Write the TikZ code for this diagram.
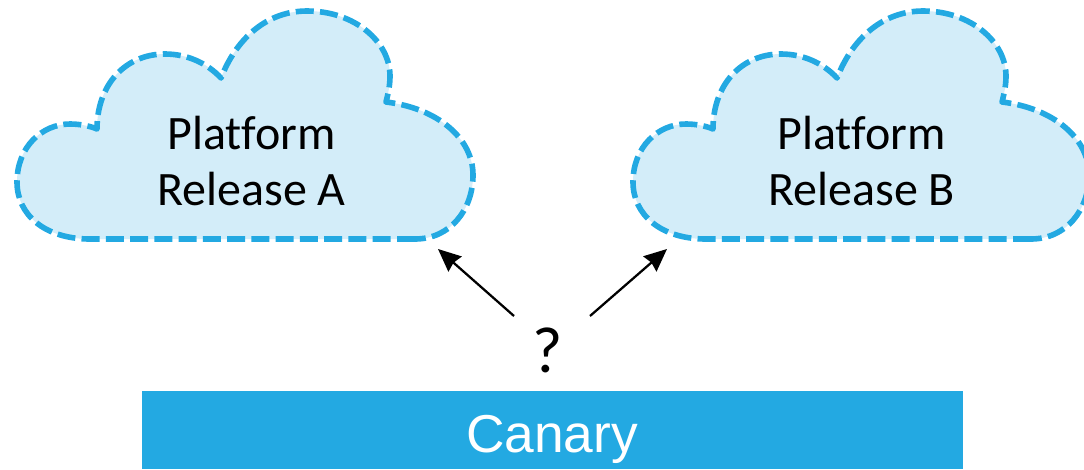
\documentclass[tikz,border=0pt]{standalone}
\usepackage{fontspec}
\setmainfont[Ligatures=NoCommon]{Carlito}
\newfontfamily\canaryfont{Liberation Sans}
\definecolor{cloudline}{HTML}{23A9E2}
\definecolor{cloudfill}{HTML}{D3EDF9}
\tikzset{
  cloudshape/.style={draw=cloudline,fill=cloudfill,line width=4.2pt,dash pattern=on 13.5pt off 4.7pt,line join=round},
  cloudlabel/.style={align=center,font=\fontsize{36}{42.5}\selectfont,text=black,inner sep=0pt},
  bar/.style={fill=cloudline,draw=none,inner sep=0pt},
  barlabel/.style={text=white,font=\canaryfont\fontsize{40}{44}\selectfont,inner sep=0pt},
  arrowline/.style={draw=black,line width=1.7pt,-{Stealth[length=17pt,width=15pt,inset=1.5pt]}},
  qmark/.style={font=\fontsize{49}{52}\selectfont,text=black,inner sep=0pt},
  pics/platformcloud/.style={code={
    \path[cloudshape] (415,239) -- (90,239)
      .. controls (45,239) and (17,215) .. (17,182)
      .. controls (17,147) and (42,124) .. (70,124)
      .. controls (80,124) and (90,126) .. (97,129)
      .. controls (97,85) and (125,54) .. (165,54)
      .. controls (187,54) and (207,63) .. (221,78)
      .. controls (237,37) and (268,11) .. (307,11)
      .. controls (355,11) and (390,42) .. (390,76)
      .. controls (390,86) and (388,94) .. (386,102)
      .. controls (437,108) and (473,138) .. (473,175)
      .. controls (473,210) and (450,239) .. (415,239) -- cycle;
  }}
}
\usetikzlibrary{arrows.meta}
\begin{document}
\begin{tikzpicture}[x=0.75pt,y=-0.75pt]
\useasboundingbox (0,0) rectangle (1084,469);
\begin{scope}
\clip (0,0) rectangle (1084,469);
\pic at (0,0) {platformcloud};
\pic at (616,0) {platformcloud};
\end{scope}
\node[cloudlabel] (relA) at (251.5,161) {Platform\\Release A};
\node[cloudlabel] (relB) at (861.5,161) {Platform\\Release B};
\node[bar,minimum width=615.75pt,minimum height=58.5pt] (canary) at (552.5,430) {};
\node[barlabel] (canarytext) at (552,439) {Canary};
\node[qmark] (q) at (548,350) {?};
\coordinate (qa) at (514,316);
\coordinate (qb) at (590,316);
\coordinate (ta) at (438,249);
\coordinate (tb) at (667,249);
\draw[arrowline] (qa) -- (ta);
\draw[arrowline] (qb) -- (tb);
\end{tikzpicture}
\end{document}
